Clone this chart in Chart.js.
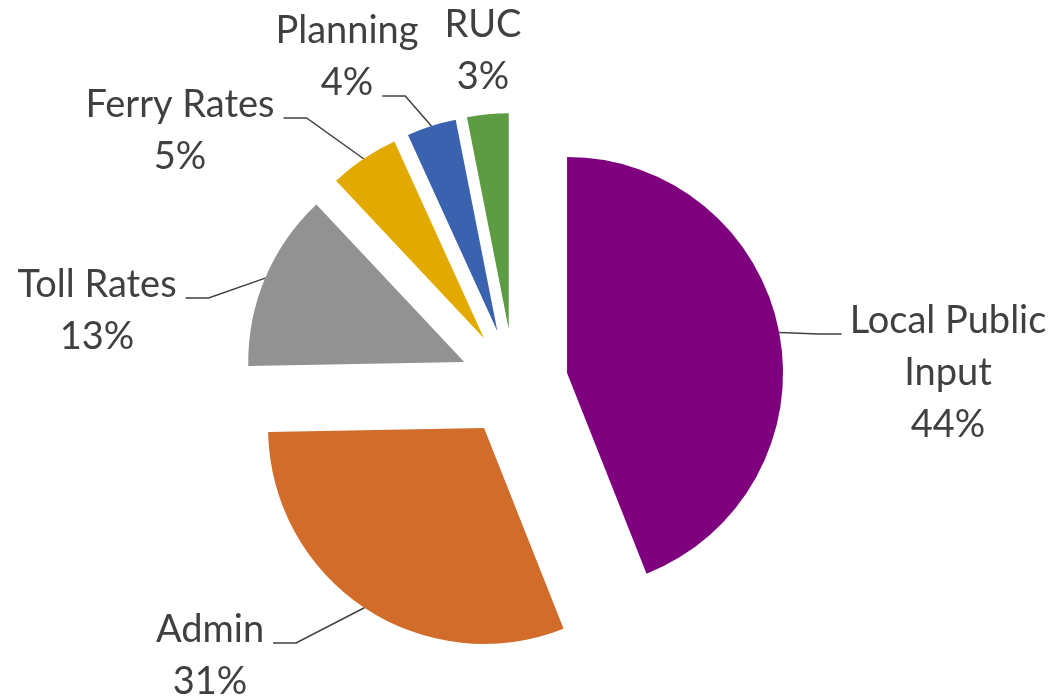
<!DOCTYPE html>
<html>
<head>
<meta charset="utf-8">
<script src="https://cdn.jsdelivr.net/npm/chart.js@4.4.1/dist/chart.umd.min.js"></script>
<style>
  html, body { margin: 0; padding: 0; background: #fff; }
  #wrap { width: 1053px; height: 697px; position: relative; }
</style>
</head>
<body>
<div id="wrap"><canvas id="pieChart"></canvas></div>
<script>
// --- Data ---
const categories = [['Local Public', 'Input'], 'Admin', 'Toll Rates', 'Ferry Rates', 'Planning', 'RUC'];
const shares = [44.0, 30.7, 13.3, 5.2, 3.7, 3.1];
const sliceColors = ['#7F007F', '#D26C2A', '#929292', '#E2AA00', '#3A62AE', '#5E9C43'];

// --- Label placement: text centre x and first baseline y, and which text line the leader joins ---
const labelAt = [[948, 333], [210, 642], [97, 297], [180, 117], [347, 43], [483, 37]];
const leaderRow = [0, 0, 0, 0, 1, null];

const EXPLODE = 54;      // how far every slice is pulled out
const LINE_H = 52;
const FONT = '38px Lato, "Open Sans", sans-serif';
const TEXT_COLOR = '#404040';

// Draw each slice moved outward along its middle angle (like Excel's "explosion")
const explodedPie = {
    id: 'explodedPie',
    beforeDatasetsDraw(chart) {
        const ctx = chart.ctx;
        chart.getDatasetMeta(0).data.forEach(arc => {
            const mid = (arc.startAngle + arc.endAngle) / 2;
            ctx.save();
            ctx.translate(Math.cos(mid) * EXPLODE, Math.sin(mid) * EXPLODE);
            arc.draw(ctx);
            ctx.restore();
        });
        return false;
    },
    afterDraw(chart) {
        const ctx = chart.ctx;
        const total = shares.reduce((a, b) => a + b, 0);
        ctx.save();
        ctx.font = FONT;
        ctx.fillStyle = TEXT_COLOR;
        ctx.textAlign = 'center';
        ctx.textBaseline = 'alphabetic';

        chart.getDatasetMeta(0).data.forEach((arc, i) => {
            const name = [].concat(categories[i]);
            const lines = name.concat(Math.round(shares[i] / total * 100) + '%');
            const [cx, by] = labelAt[i];
            lines.forEach((t, k) => ctx.fillText(t, cx, by + k * LINE_H));

            if (leaderRow[i] === null) return;
            const mid = (arc.startAngle + arc.endAngle) / 2;
            const r = arc.outerRadius + EXPLODE;
            const px = arc.x + Math.cos(mid) * r;
            const py = arc.y + Math.sin(mid) * r;
            const w = ctx.measureText(lines[leaderRow[i]]).width;
            const ly = by + leaderRow[i] * LINE_H + 1;
            let xEnd, xElbow;
            if (cx > px) { xEnd = cx - w / 2 - 8; xElbow = xEnd - 23; }
            else { xEnd = cx + w / 2 + 9; xElbow = xEnd + 23; }

            ctx.beginPath();
            ctx.moveTo(px, py);
            ctx.lineTo(xElbow, ly);
            ctx.lineTo(xEnd, ly);
            ctx.strokeStyle = TEXT_COLOR;
            ctx.lineWidth = 1.5;
            ctx.stroke();
        });
        ctx.restore();
    }
};

new Chart(document.getElementById('pieChart'), {
    type: 'pie',
    data: {
        labels: categories,
        datasets: [{
            data: shares,
            backgroundColor: sliceColors,
            borderWidth: 0
        }]
    },
    options: {
        responsive: true,
        maintainAspectRatio: false,
        animation: false,
        radius: 216,
        layout: { padding: { left: 0, right: 25, top: 69, bottom: 0 } },
        plugins: {
            legend: { display: false },
            tooltip: { enabled: false }
        }
    },
    plugins: [explodedPie]
});
</script>
</body>
</html>
